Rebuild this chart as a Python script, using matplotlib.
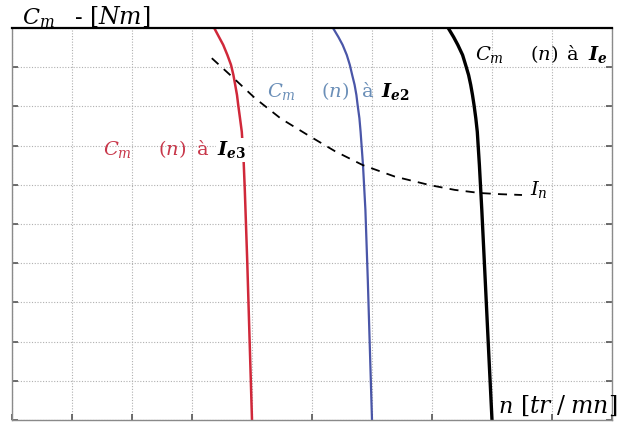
import numpy as np
import matplotlib
matplotlib.use('Agg')
import matplotlib.pyplot as plt

plt.rcParams['mathtext.fontset'] = 'dejavuserif'
plt.rcParams['font.family'] = ['DejaVu Serif']

# torque / speed curves, n along x, Cm along y (arbitrary grid units)
cm_pts = [10.0, 9.77, 9.57, 9.31, 9.06, 8.80, 8.55, 8.29, 8.04, 7.70, 7.35]

n_e3 = [3.37, 3.45, 3.52, 3.59, 3.65, 3.69, 3.72, 3.75, 3.77, 3.80, 3.83, 3.86, 3.88, 3.92, 3.96, 4.00]
cm_e3 = cm_pts + [6.63, 5.87, 4.08, 2.04, 0.0]

n_e2 = [5.35, 5.44, 5.51, 5.58, 5.63, 5.67, 5.71, 5.74, 5.76, 5.79, 5.81, 5.85, 5.89, 5.93, 5.965, 6.00]
cm_e2 = cm_pts + [6.50, 5.36, 3.57, 1.79, 0.0]

n_e = [7.27, 7.36, 7.43, 7.51, 7.56, 7.61, 7.645, 7.675, 7.70, 7.73, 7.755, 7.79, 7.83, 7.887, 7.943, 8.00]
cm_e = cm_pts + [6.50, 5.36, 3.57, 1.79, 0.0]

# rated current locus
n_in = [3.33, 3.68, 4.05, 4.48, 4.95, 5.38, 5.85, 6.38, 6.97, 7.38, 7.80, 8.15, 8.50]
cm_in = [9.23, 8.74, 8.21, 7.69, 7.25, 6.86, 6.50, 6.21, 5.99, 5.87, 5.79, 5.76, 5.74]

fig = plt.figure(figsize=(6.33, 4.23), dpi=100)
ax = fig.add_axes([12/633, 3/423, 600/633, 392/423])
ax.set_xlim(0, 10)
ax.set_ylim(0, 10)
ax.set_xticks(np.arange(0, 11))
ax.set_yticks(np.arange(0, 11))
ax.set_xticklabels([])
ax.set_yticklabels([])
ax.tick_params(direction='in', length=4, width=1.2, color='#555555',
               left=True, bottom=True, right=True, top=False)
ax.grid(True, color='#b0b0b0', linestyle=(0, (1, 1.5)), linewidth=0.8)

for side in ['left', 'right', 'bottom']:
    ax.spines[side].set_color('#8a8a8a')
    ax.spines[side].set_linewidth(1.0)
ax.spines['top'].set_color('black')
ax.spines['top'].set_linewidth(1.6)

ax.plot(n_e3, cm_e3, color='#d0283a', linewidth=1.8)
ax.plot(n_e2, cm_e2, color='#4a56a8', linewidth=1.6)
ax.plot(n_e, cm_e, color='black', linewidth=2.4)
ax.plot(n_in, cm_in, color='black', linewidth=1.3, linestyle=(0, (5, 4)))

fs = 14
red = '#c8374a'
blue = '#6b8fb8'

# curve labels, one piece per word
ax.text(1.52, 6.75, r'$C_m$', color=red, fontsize=fs)
ax.text(2.43, 6.75, r'$(n)$', color=red, fontsize=fs)
ax.text(3.08, 6.75, 'à', color=red, fontsize=fs)
ax.text(3.42, 6.75, r'$\mathbfit{I}_{\mathbfit{e}\mathbf{3}}$', color='black', fontsize=fs,
        bbox=dict(facecolor='white', edgecolor='none', pad=1))

ax.text(4.25, 8.24, r'$C_m$', color=blue, fontsize=fs)
ax.text(5.15, 8.24, r'$(n)$', color=blue, fontsize=fs)
ax.text(5.83, 8.24, 'à', color=blue, fontsize=fs)
ax.text(6.15, 8.24, r'$\mathbfit{I}_{\mathbfit{e}\mathbf{2}}$', color='black', fontsize=fs)

ax.text(7.72, 9.18, r'$C_m$', color='black', fontsize=fs)
ax.text(8.63, 9.18, r'$(n)$', color='black', fontsize=fs)
ax.text(9.25, 9.18, 'à', color='black', fontsize=fs)
ax.text(9.6, 9.18, r'$\mathbfit{I}_{\mathbfit{e}}$', color='black', fontsize=fs,
        clip_on=False)

ax.text(8.63, 5.74, r'$I_n$', color='black', fontsize=fs)

# axis titles
ax.text(0.17, 10.1, r'$C_m$', color='black', fontsize=16, clip_on=False)
ax.text(1.05, 10.1, '-', color='black', fontsize=16, clip_on=False)
ax.text(1.28, 10.1, r'$[Nm]$', color='black', fontsize=17, clip_on=False)
ax.text(8.1, 0.18, r'$n$', color='black', fontsize=16, clip_on=False)
ax.text(8.47, 0.18, r'$[tr\;/\;mn]$', color='black', fontsize=17, clip_on=False)

fig.savefig('out.png', dpi=100)
